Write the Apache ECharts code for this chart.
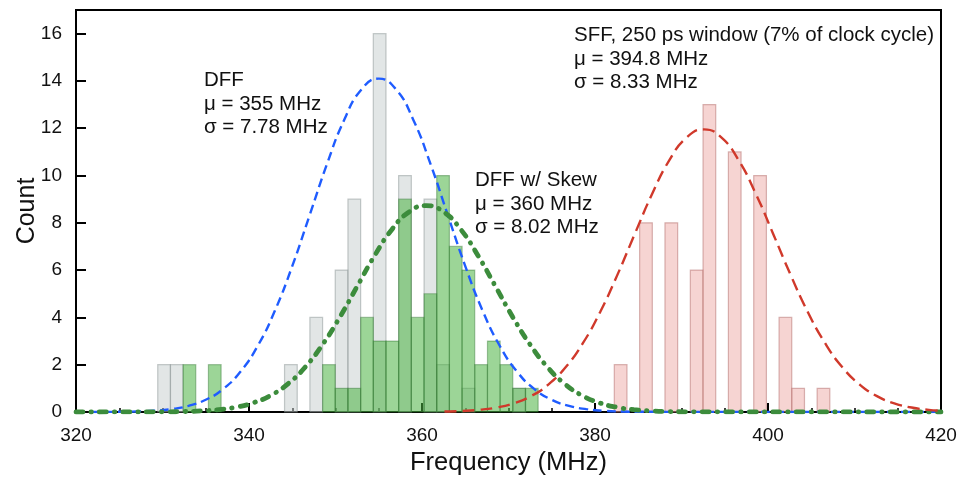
<!DOCTYPE html>
<html>
<head>
<meta charset="utf-8">
<script src="https://cdn.jsdelivr.net/npm/echarts@6/dist/echarts.min.js"></script>
<style>
html,body{margin:0;padding:0;background:#fff;}
#chart{width:963px;height:481px;}
</style>
</head>
<body>
<div id="chart"></div>
<script>
// ---- data ----
const binWidth = 1.466; // MHz, common histogram bin width

// DFF (grey histogram)
const dffBinStart = [329.45, 330.92, 344.11, 347.04, 349.97, 351.44, 354.37, 357.30, 360.24, 361.70, 364.63, 370.50];
const dffCounts   = [2, 2, 2, 4, 6, 9, 16, 10, 9, 2, 1, 1];

// DFF w/ Skew (green histogram)
const skewBinStart = [332.38, 335.31, 348.51, 349.97, 351.44, 352.91, 354.37, 355.84, 357.30, 358.77, 360.24, 361.70, 363.17, 364.63, 366.10, 367.57, 369.03, 370.50, 371.96];
const skewCounts   = [2, 2, 2, 1, 1, 4, 3, 3, 9, 4, 5, 10, 7, 6, 2, 3, 2, 1, 1];

// SFF (pink histogram)
const sffBinStart = [382.23, 385.16, 388.09, 391.02, 392.49, 395.42, 398.35, 401.28, 402.75, 405.68];
const sffCounts   = [2, 8, 8, 6, 13, 11, 10, 4, 1, 1];

// fitted curves
const dffFitX = [320, 325, 327, 329, 331, 333, 335, 337, 339, 341, 343, 345, 347, 349, 351, 353, 355, 357, 359, 361, 363, 365, 367, 369, 371, 373, 375, 377, 379, 381, 383, 385, 420];
const dffFitY = [0, 0.008, 0.022, 0.053, 0.121, 0.259, 0.518, 0.97, 1.70, 2.79, 4.29, 6.17, 8.31, 10.47, 12.35, 13.64, 14.10, 13.64, 12.35, 10.47, 8.31, 6.17, 4.29, 2.79, 1.70, 0.97, 0.518, 0.259, 0.121, 0.053, 0.022, 0.008, 0];

const skewFitX = [320, 330.5, 332.5, 334.5, 336.5, 338.5, 340.5, 342.5, 344.5, 346.5, 348.5, 350.5, 352.5, 354.5, 356.5, 358.5, 360.5, 362.5, 364.5, 366.5, 368.5, 370.5, 372.5, 374.5, 376.5, 378.5, 380.5, 382.5, 384.5, 386.5, 388.5, 390.5, 420];
const skewFitY = [0, 0.008, 0.020, 0.046, 0.099, 0.203, 0.39, 0.70, 1.19, 1.90, 2.85, 4.01, 5.31, 6.60, 7.71, 8.46, 8.73, 8.46, 7.71, 6.60, 5.31, 4.01, 2.85, 1.90, 1.19, 0.70, 0.39, 0.203, 0.099, 0.046, 0.020, 0.008, 0];

const sffFitX = [362.6, 364.6, 366.6, 368.6, 370.6, 372.6, 374.6, 376.6, 378.6, 380.6, 382.6, 384.6, 386.6, 388.6, 390.6, 392.6, 394.6, 396.6, 398.6, 400.6, 402.6, 404.6, 406.6, 408.6, 410.6, 412.6, 414.6, 416.6, 418.6, 420];
const sffFitY = [0.018, 0.042, 0.092, 0.188, 0.366, 0.67, 1.16, 1.89, 2.91, 4.23, 5.81, 7.53, 9.22, 10.65, 11.61, 11.95, 11.61, 10.65, 9.22, 7.53, 5.81, 4.23, 2.91, 1.89, 1.16, 0.67, 0.366, 0.188, 0.092, 0.053];

const xTicks = {min: 320, max: 420, step: 20};
const yTicks = {min: 0, max: 17, step: 2};

const annDFF  = ['DFF', 'μ = 355 MHz', 'σ = 7.78 MHz'];
const annSkew = ['DFF w/ Skew', 'μ = 360 MHz', 'σ = 8.02 MHz'];
const annSFF  = ['SFF, 250 ps window (7% of clock cycle)', 'μ = 394.8 MHz', 'σ = 8.33 MHz'];

// ---- chart ----
const FONT = '"Liberation Sans", Arial, Helvetica, sans-serif';

function histData(starts, counts) {
  return starts.map((s, i) => [s, s + binWidth, counts[i]]);
}
function pairs(xs, ys) { return xs.map((x, i) => [x, ys[i]]); }

function histSeries(name, starts, counts, fill, stroke) {
  return {
    type: 'custom',
    name: name,
    data: histData(starts, counts),
    encode: {x: [0, 1], y: 2},
    renderItem: function (params, api) {
      const p0 = api.coord([api.value(0), 0]);
      const p1 = api.coord([api.value(1), api.value(2)]);
      return {
        type: 'rect',
        shape: {x: p0[0], y: p1[1], width: p1[0] - p0[0], height: p0[1] - p1[1]},
        style: {fill: fill, stroke: stroke, lineWidth: 1.2}
      };
    },
    silent: true
  };
}

function textBlock(lines, left, top) {
  return {
    type: 'text',
    left: left,
    top: top,
    style: {
      text: lines.join('\n'),
      font: '20.5px ' + FONT,
      fill: '#111',
      lineHeight: 23.3
    },
    z: 100
  };
}

const chart = echarts.init(document.getElementById('chart'), null, {renderer: 'canvas'});
chart.setOption({
  animation: false,
  backgroundColor: '#fff',
  grid: {left: 76, right: 22, top: 10, bottom: 68, show: true, borderColor: '#000', borderWidth: 2, backgroundColor: 'transparent'},
  xAxis: {
    type: 'value', min: xTicks.min, max: xTicks.max, interval: xTicks.step,
    name: 'Frequency (MHz)', nameLocation: 'middle', nameGap: 38, nameMoveOverlap: false,
    nameTextStyle: {fontSize: 25.5, color: '#111', fontFamily: FONT},
    axisLine: {lineStyle: {color: '#000', width: 2}},
    axisTick: {inside: true, length: 9, lineStyle: {color: '#000', width: 2}},
    minorTick: {show: true, splitNumber: 4, length: 4, lineStyle: {color: '#000', width: 1.5}},
    splitLine: {show: false},
    axisLabel: {fontSize: 19, color: '#111', margin: 14, fontFamily: FONT}
  },
  yAxis: {
    type: 'value', min: yTicks.min, max: yTicks.max, interval: yTicks.step,
    name: 'Count', nameLocation: 'middle', nameGap: 36, nameRotate: 90, nameMoveOverlap: false,
    nameTextStyle: {fontSize: 25, color: '#111', fontFamily: FONT},
    axisLine: {show: true, lineStyle: {color: '#000', width: 2}},
    axisTick: {show: true, inside: true, length: 10, lineStyle: {color: '#000', width: 2}},
    splitLine: {show: false},
    axisLabel: {fontSize: 19, color: '#111', margin: 14, fontFamily: FONT, showMaxLabel: false}
  },
  series: [
    histSeries('DFF', dffBinStart, dffCounts, 'rgba(190,200,200,0.45)', 'rgba(140,150,150,0.5)'),
    histSeries('DFF w/ Skew', skewBinStart, skewCounts, 'rgba(75,178,65,0.55)', 'rgba(40,110,40,0.4)'),
    histSeries('SFF', sffBinStart, sffCounts, 'rgba(236,160,155,0.45)', 'rgba(180,110,108,0.5)'),
    {
      type: 'line', name: 'DFF fit', data: pairs(dffFitX, dffFitY), smooth: 0.5,
      showSymbol: false, silent: true,
      lineStyle: {color: '#1f5cff', width: 2.4, type: [9, 5]}
    },
    {
      type: 'line', name: 'Skew fit', data: pairs(skewFitX, skewFitY), smooth: 0.5,
      showSymbol: false, silent: true,
      lineStyle: {color: '#3c8c3c', width: 4.8, type: [7, 8, 0.5, 8], cap: 'round'}
    },
    {
      type: 'line', name: 'SFF fit', data: pairs(sffFitX, sffFitY), smooth: 0.5,
      showSymbol: false, silent: true,
      lineStyle: {color: '#d0392b', width: 2.4, type: [12, 6]}
    }
  ],
  graphic: [
    textBlock(annDFF, 204, 69),
    textBlock(annSkew, 475, 169),
    textBlock(annSFF, 574, 24)
  ]
});
</script>
</body>
</html>
